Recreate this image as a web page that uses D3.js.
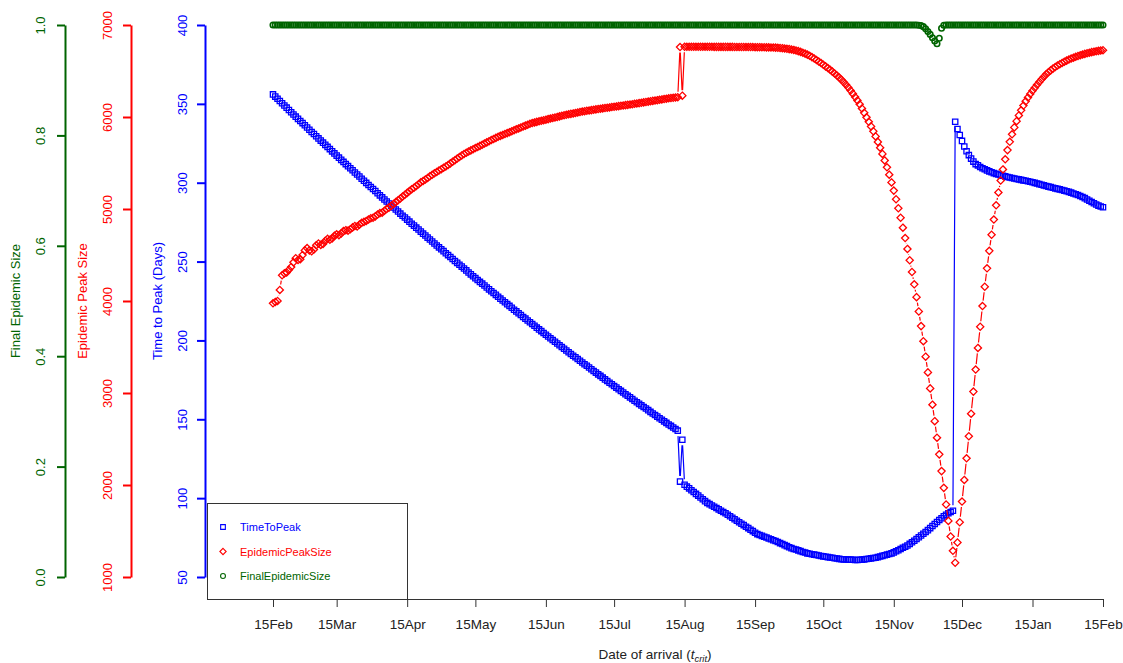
<!DOCTYPE html>
<html><head><meta charset="utf-8">
<script src="https://cdn.jsdelivr.net/npm/d3@7"></script>
<style>
body{margin:0;background:#fff}
svg{display:block}
text{font-family:"Liberation Sans",Arial,Helvetica,sans-serif}
</style>
</head><body>
<svg id="c" width="1123" height="663"></svg>
<script>
// ---------------- DATA ----------------
const startDate = "2013-02-15";
const endDate = "2014-02-15";
const xTickDates = ["2013-02-15","2013-03-15","2013-04-15","2013-05-15","2013-06-15","2013-07-15",
  "2013-08-15","2013-09-15","2013-10-15","2013-11-15","2013-12-15","2014-01-15","2014-02-15"];
const xTickLabels = ["15Feb","15Mar","15Apr","15May","15Jun","15Jul","15Aug","15Sep","15Oct","15Nov","15Dec","15Jan","15Feb"];
const timeTicks = [50,100,150,200,250,300,350,400];
const peakTicks = [1000,2000,3000,4000,5000,6000,7000];
const finalTicks = [0,0.2,0.4,0.6,0.8,1.0];
const seriesNames = ["TimeToPeak","EpidemicPeakSize","FinalEpidemicSize"];

// daily values, 15Feb .. 15Feb (366 points)
const timeToPeak = [
356,354.6,353.2,351.8,350.4,349,347.6,346.1,344.7,343.3,
341.9,340.5,339.1,337.8,336.4,335,333.6,332.2,330.9,329.5,
328.1,326.7,325.4,324,322.7,321.3,319.9,318.6,317.2,315.9,
314.5,313.2,311.8,310.5,309.2,307.9,306.5,305.2,303.9,302.5,
301.2,299.9,298.6,297.3,296,294.7,293.3,292,290.7,289.4,
288.1,286.8,285.5,284.3,283,281.7,280.4,279.1,277.9,276.6,
275.3,274,272.8,271.5,270.3,269,267.7,266.5,265.2,264,
262.7,261.5,260.2,259,257.8,256.6,255.3,254.1,252.9,251.6,
250.4,249.2,248,246.8,245.6,244.4,243.1,241.9,240.7,239.5,
238.3,237.1,236,234.8,233.6,232.4,231.2,230.1,228.9,227.7,
226.5,225.3,224.2,223,221.9,220.7,219.5,218.4,217.2,216.1,
214.9,213.8,212.6,211.5,210.4,209.3,208.1,207,205.9,204.7,
203.6,202.5,201.4,200.3,199.2,198.1,196.9,195.8,194.7,193.6,
192.5,191.4,190.3,189.3,188.2,187.1,186,184.9,183.9,182.8,
181.7,180.6,179.6,178.5,177.5,176.4,175.3,174.3,173.2,172.2,
171.1,170.1,169,168,167,165.9,164.9,163.9,162.9,161.8,
160.8,159.8,158.8,157.8,156.8,155.8,154.7,153.7,152.7,151.7,
150.7,149.7,148.7,147.7,146.7,145.8,144.8,143.8,142.8,110.5,
137,108.5,107.3,106.2,105,103.9,102.7,101.6,100.4,99.3,
98.1,97,96.2,95.3,94.5,93.7,92.9,92,91.2,90.4,
89.5,88.5,87.6,86.6,85.7,84.7,83.8,82.9,81.9,81,
80,79.1,78.1,77.2,76.6,76.1,75.5,75,74.4,73.9,
73.3,72.8,72.2,71.5,70.9,70.2,69.6,68.9,68.3,67.8,
67.4,66.9,66.4,65.9,65.5,65,64.7,64.4,64.2,63.9,
63.6,63.3,63.1,62.8,62.6,62.4,62.2,61.9,61.7,61.5,
61.3,61.2,61.1,61,61,60.9,60.8,60.8,60.9,61,
61.2,61.4,61.6,61.8,62,62.2,62.6,63,63.4,63.8,
64.2,64.6,65,65.6,66.3,67,67.8,68.5,69.2,70,
71,72,73,74.1,75.2,76.3,77.4,78.5,79.7,81,
82.3,83.6,84.9,86.1,87.3,88.5,89.5,90.4,91.2,92,
338.7,334.1,330.3,326.5,323,320,317.5,315.3,313.4,311.8,
311,310,309.2,308.5,307.8,307.2,306.6,306.1,305.6,305.2,
304.8,304.4,304,303.6,303.3,303,302.7,302.4,302.1,301.8,
301.5,301.2,300.9,300.6,300.3,299.9,299.5,299.1,298.7,298.3,
297.9,297.5,297.2,296.8,296.4,296.1,295.8,295.4,295,294.6,
294.2,293.7,293.2,292.7,292.2,291.6,290.9,290.2,289.4,288.6,
287.8,287,286.2,285.5,284.9,284.4
];

const epidemicPeakSize = [
3975,3990,4000,4120,4280,4300,4310,4340,4370,4420,
4465,4445,4455,4500,4550,4575,4550,4540,4560,4605,
4625,4610,4620,4655,4675,4665,4680,4710,4725,4715,
4735,4760,4770,4765,4780,4800,4815,4810,4830,4850,
4860,4870,4885,4900,4905,4920,4940,4955,4960,4980,
5000,5015,5035,5055,5075,5095,5115,5135,5155,5175,
5195,5215,5232,5250,5270,5290,5305,5320,5338,5355,
5372,5388,5403,5418,5433,5448,5463,5478,5496,5513,
5530,5548,5565,5582,5598,5611,5624,5637,5650,5662,
5674,5686,5698,5711,5724,5737,5749,5761,5773,5785,
5795,5805,5815,5825,5835,5845,5855,5866,5876,5886,
5896,5906,5916,5926,5934,5941,5947,5953,5959,5965,
5971,5977,5983,5989,5995,6001,6007,6013,6019,6024,
6029,6034,6039,6044,6049,6054,6059,6063,6067,6071,
6075,6079,6083,6087,6090,6094,6097,6101,6104,6108,
6111,6115,6118,6122,6125,6129,6132,6136,6139,6143,
6147,6151,6155,6159,6163,6167,6171,6175,6179,6183,
6187,6191,6195,6199,6203,6206,6209,6212,6215,6760,
6232,6763,6763,6763,6763,6763,6763,6763,6763,6763,
6763,6763,6763,6763,6762,6762,6762,6762,6762,6762,
6762,6762,6762,6761,6761,6761,6761,6761,6760,6760,
6760,6760,6759,6759,6759,6758,6758,6757,6757,6756,
6755,6754,6752,6750,6748,6745,6742,6738,6734,6729,
6723,6716,6708,6699,6689,6678,6665,6651,6636,6620,
6603,6586,6568,6550,6532,6513,6493,6472,6451,6428,
6404,6378,6350,6320,6288,6254,6218,6180,6138,6093,
6045,5996,5948,5898,5845,5789,5729,5666,5599,5528,
5453,5373,5289,5200,5106,5008,4905,4797,4684,4566,
4443,4315,4181,4042,3886,3727,3563,3395,3224,3050,
2873,2694,2514,2333,2151,1969,1788,1610,1440,1285,
1155,1375,1595,1820,2055,2290,2530,2775,3015,3255,
3490,3720,3945,4155,4355,4545,4720,4885,5040,5180,
5310,5430,5540,5640,5730,5812,5887,5955,6017,6073,
6124,6170,6212,6250,6285,6317,6350,6381,6410,6438,
6465,6487,6507,6526,6543,6559,6574,6588,6601,6613,
6624,6635,6645,6654,6663,6671,6679,6686,6693,6699,
6705,6710,6715,6719,6723,6726
];

const finalEpidemicSize = [
1,1,1,1,1,1,1,1,1,1, 1,1,1,1,1,1,1,1,1,1,
1,1,1,1,1,1,1,1,1,1, 1,1,1,1,1,1,1,1,1,1,
1,1,1,1,1,1,1,1,1,1, 1,1,1,1,1,1,1,1,1,1,
1,1,1,1,1,1,1,1,1,1, 1,1,1,1,1,1,1,1,1,1,
1,1,1,1,1,1,1,1,1,1, 1,1,1,1,1,1,1,1,1,1,
1,1,1,1,1,1,1,1,1,1, 1,1,1,1,1,1,1,1,1,1,
1,1,1,1,1,1,1,1,1,1, 1,1,1,1,1,1,1,1,1,1,
1,1,1,1,1,1,1,1,1,1, 1,1,1,1,1,1,1,1,1,1,
1,1,1,1,1,1,1,1,1,1, 1,1,1,1,1,1,1,1,1,1,
1,1,1,1,1,1,1,1,1,1, 1,1,1,1,1,1,1,1,1,1,
1,1,1,1,1,1,1,1,1,1, 1,1,1,1,1,1,1,1,1,1,
1,1,1,1,1,1,1,1,1,1, 1,1,1,1,1,1,1,1,1,1,
1,1,1,1,1,1,1,1,1,1, 1,1,1,1,1,1,1,1,1,1,
1,1,1,1,1,1,1,1,1,1, 1,1,1,1,1,1,1,1,1,1,
1,1,1,1,0.9995,0.999,0.997,0.993,0.988,0.983,
0.977,0.971,0.966,0.976,0.994,0.9995,1,1,1,1,
1,1,1,1,1,1,1,1,1,1, 1,1,1,1,1,1,1,1,1,1,
1,1,1,1,1,1,1,1,1,1, 1,1,1,1,1,1,1,1,1,1,
1,1,1,1,1,1,1,1,1,1, 1,1,1,1,1,1,1,1,1,1,
1,1,1,1,1,1
];

// ---------------- CHART ----------------
const svg = d3.select("#c");
const FONT = "Liberation Sans, Arial, Helvetica, sans-serif";
const BLUE = "#0000ff", RED = "#ff0000", GREEN = "#006400";
const parseDay = d3.utcParse("%Y-%m-%d");
const t0 = parseDay(startDate), t1 = parseDay(endDate);

const x = d3.scaleUtc().domain([t0, t1]).range([273, 1103]);
const yTime = d3.scaleLinear().domain([50, 400]).range([577, 25]);
const yPeak = d3.scaleLinear().domain([1000, 7000]).range([577, 25]);
const yFinal = d3.scaleLinear().domain([0, 1]).range([577, 25]);

function yAxis(scale, ticks, fmt, xpos, color, labelOffset, title, titleX) {
  const g = svg.append("g").attr("transform", `translate(${xpos},0)`)
    .call(d3.axisLeft(scale).tickValues(ticks).tickFormat(fmt).tickSize(8).tickSizeOuter(0));
  g.attr("font-family", FONT).attr("font-size", 13);
  g.select(".domain").attr("stroke", color).attr("stroke-width", 2);
  g.selectAll(".tick line").attr("stroke", color).attr("stroke-width", 2);
  g.selectAll(".tick text").attr("fill", color).attr("x", 0).attr("dy", null)
    .attr("transform", `translate(${labelOffset},0) rotate(-90)`)
    .attr("text-anchor", "middle").attr("dominant-baseline", "central");
  svg.append("text").attr("transform", `translate(${titleX},301) rotate(-90)`)
    .attr("text-anchor", "middle").attr("dominant-baseline", "central")
    .attr("fill", color).attr("font-size", 13).text(title);
}
yAxis(yFinal, finalTicks, d3.format(".1f"), 65, GREEN, -25, "Final Epidemic Size", 15);
yAxis(yPeak, peakTicks, d3.format("d"), 131, RED, -24, "Epidemic Peak Size", 82);
yAxis(yTime, timeTicks, d3.format("d"), 205, BLUE, -23, "Time to Peak (Days)", 157);

// x axis
const xg = svg.append("g").attr("transform", "translate(0,599)")
  .call(d3.axisBottom(x).tickValues(xTickDates.map(parseDay))
    .tickFormat((d, i) => xTickLabels[i]).tickSize(8).tickPadding(12));
xg.attr("font-family", FONT).attr("font-size", 13.5);
xg.select(".domain").remove();
xg.selectAll(".tick line").attr("stroke", "#333");
xg.selectAll(".tick text").attr("fill", "#222");
svg.append("line").attr("x1", 207).attr("x2", 1103).attr("y1", 599.5).attr("y2", 599.5)
  .attr("stroke", "#333").attr("stroke-width", 1);

const xt = svg.append("text").attr("x", 655).attr("y", 659).attr("text-anchor", "middle")
  .attr("font-size", 13.5).attr("fill", "#222");
xt.append("tspan").text("Date of arrival (");
xt.append("tspan").attr("font-style", "italic").text("t");
xt.append("tspan").attr("font-style", "italic").attr("font-size", 9.5).attr("dy", 3).text("crit");
xt.append("tspan").attr("dy", -3).text(")");

// symbols (size = diameter^2)
const squareSym = { draw(ctx, size) { const s = Math.sqrt(size) / 2;
  ctx.moveTo(-s, -s); ctx.lineTo(s, -s); ctx.lineTo(s, s); ctx.lineTo(-s, s); ctx.closePath(); } };
const diamondSym = { draw(ctx, size) { const r = Math.sqrt(size) / 2;
  ctx.moveTo(0, -r); ctx.lineTo(r, 0); ctx.lineTo(0, r); ctx.lineTo(-r, 0); ctx.closePath(); } };
const circleSym = { draw(ctx, size) { const r = Math.sqrt(size) / 2;
  ctx.moveTo(r, 0); ctx.arc(0, 0, r, 0, 2 * Math.PI); } };

const SQ = 28, DI = 52, CI = 30;

function drawSeries(values, yScale, color, sym, size, sw) {
  const g = svg.append("g");
  const pts = values.map((v, i) => [x(d3.utcDay.offset(t0, i)), yScale(v)]);
  const gap = 5.5;
  let d = "";
  for (let i = 1; i < pts.length; i++) {
    const [x1, y1] = pts[i - 1], [x2, y2] = pts[i];
    const dx = x2 - x1, dy = y2 - y1, L = Math.hypot(dx, dy);
    if (L > 2 * gap) {
      const ux = dx / L, uy = dy / L;
      d += `M${x1 + ux * gap},${y1 + uy * gap}L${x2 - ux * gap},${y2 - uy * gap}`;
    }
  }
  g.append("path").attr("d", d).attr("fill", "none").attr("stroke", color).attr("stroke-width", 1.2);
  g.selectAll("path.pt").data(pts).join("path").attr("class", "pt")
    .attr("transform", p => `translate(${p[0]},${p[1]})`)
    .attr("d", d3.symbol().type(sym).size(size))
    .attr("fill", "none").attr("stroke", color).attr("stroke-width", sw);
}
drawSeries(timeToPeak, yTime, BLUE, squareSym, SQ, 1.3);
drawSeries(epidemicPeakSize, yPeak, RED, diamondSym, DI, 1.3);
drawSeries(finalEpidemicSize, yFinal, GREEN, circleSym, CI, 1.6);

// legend
const lg = svg.append("g");
lg.append("rect").attr("x", 207.5).attr("y", 503.5).attr("width", 200).attr("height", 96)
  .attr("fill", "none").attr("stroke", "#333").attr("stroke-width", 1);
const legendItems = [
  { name: seriesNames[0], color: BLUE, sym: squareSym, size: 22 },
  { name: seriesNames[1], color: RED, sym: diamondSym, size: 40 },
  { name: seriesNames[2], color: GREEN, sym: circleSym, size: 24 }
];
legendItems.forEach((it, i) => {
  const y = 527 + i * 24.5;
  lg.append("path").attr("transform", `translate(223,${y})`)
    .attr("d", d3.symbol().type(it.sym).size(it.size))
    .attr("fill", "none").attr("stroke", it.color).attr("stroke-width", 1.1);
  lg.append("text").attr("x", 240).attr("y", y).attr("dominant-baseline", "central")
    .attr("font-size", 11).attr("fill", it.color).text(it.name);
});
</script>
</body></html>
